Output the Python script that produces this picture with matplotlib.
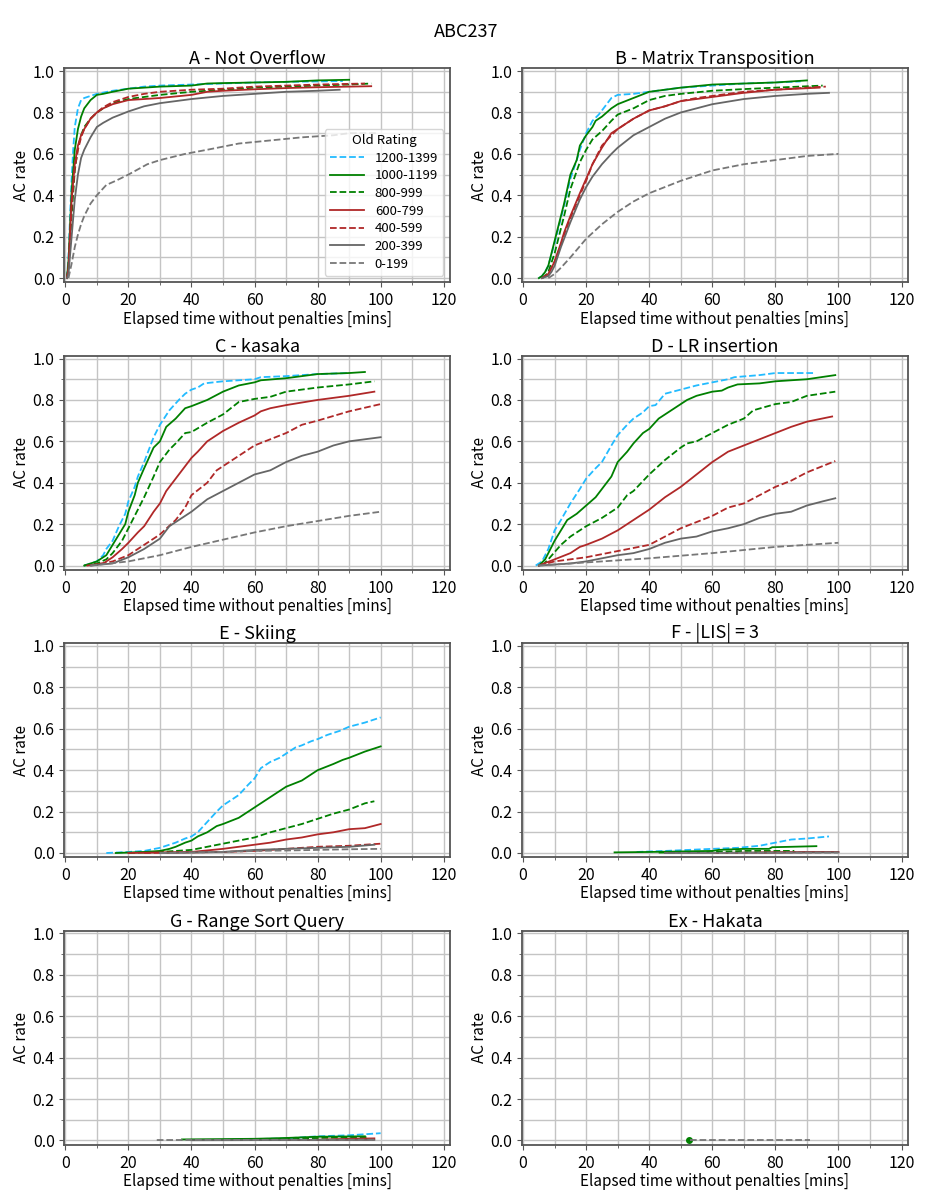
import matplotlib
matplotlib.use('Agg')
import matplotlib.pyplot as plt
from matplotlib.ticker import MultipleLocator

plt.rcParams['font.family'] = ['Noto Sans CJK JP', 'DejaVu Sans']

# rating groups, highest first (legend order)
RATINGS = ['1200-1399', '1000-1199', '800-999', '600-799', '400-599', '200-399', '0-199']
COLORS = ['#22bbff', 'green', 'green', '#b02828', '#b02828', '#666666', '#777777']
STYLES = ['--', '-', '--', '-', '--', '-', '--']

TITLES = ['A - Not Overflow', 'B - Matrix Transposition', 'C - kasaka', 'D - LR insertion',
          'E - Skiing', 'F - |LIS| = 3', 'G - Range Sort Query', 'Ex - Hakata']

# elapsed minutes / AC rate, one list per rating group
A_T = [[0.5, 1, 1.5, 2, 2.5, 3, 4, 5, 6, 8, 10, 15, 20, 25, 30, 40, 50, 60, 70, 80, 88],
       [0.5, 1, 1.5, 2, 3, 4, 5, 6, 8, 10, 12, 15, 20, 25, 30, 40, 45, 50, 60, 70, 80, 90],
       [0.5, 1, 2, 3, 4, 5, 6, 8, 10, 12, 15, 20, 25, 30, 40, 50, 60, 70, 80, 90, 97],
       [0.5, 1, 2, 3, 4, 5, 6, 8, 10, 12, 15, 20, 25, 30, 40, 45, 50, 60, 70, 80, 90, 97],
       [0.5, 1, 2, 3, 4, 5, 6, 8, 10, 12, 15, 20, 25, 30, 40, 50, 60, 70, 80, 95],
       [0.5, 1, 2, 3, 4, 5, 6, 8, 10, 12, 15, 20, 25, 30, 40, 50, 60, 70, 80, 87],
       [1, 2, 3, 4, 5, 6, 8, 10, 13, 16, 20, 26, 30, 38, 45, 55, 65, 75, 85, 90, 99]]
A_R = [[0, 0.1, 0.3, 0.48, 0.62, 0.73, 0.82, 0.86, 0.87, 0.88, 0.89, 0.905, 0.915, 0.925, 0.93, 0.935, 0.94, 0.945, 0.948, 0.95, 0.952],
       [0, 0.08, 0.25, 0.42, 0.62, 0.72, 0.78, 0.82, 0.86, 0.885, 0.89, 0.9, 0.915, 0.92, 0.925, 0.93, 0.94, 0.942, 0.945, 0.948, 0.955, 0.958],
       [0, 0.05, 0.3, 0.52, 0.63, 0.69, 0.73, 0.77, 0.8, 0.82, 0.845, 0.865, 0.875, 0.885, 0.9, 0.91, 0.92, 0.925, 0.93, 0.935, 0.94],
       [0, 0.05, 0.38, 0.55, 0.64, 0.69, 0.72, 0.77, 0.8, 0.82, 0.84, 0.86, 0.865, 0.87, 0.885, 0.9, 0.905, 0.912, 0.918, 0.922, 0.925, 0.927],
       [0, 0.04, 0.35, 0.53, 0.62, 0.68, 0.72, 0.77, 0.8, 0.825, 0.85, 0.875, 0.89, 0.9, 0.91, 0.915, 0.925, 0.93, 0.935, 0.94],
       [0, 0.02, 0.2, 0.38, 0.5, 0.58, 0.62, 0.68, 0.73, 0.75, 0.775, 0.805, 0.83, 0.845, 0.865, 0.88, 0.89, 0.9, 0.905, 0.91],
       [0, 0.07, 0.15, 0.21, 0.26, 0.3, 0.36, 0.4, 0.45, 0.47, 0.5, 0.55, 0.57, 0.6, 0.62, 0.65, 0.665, 0.68, 0.69, 0.7, 0.7]]

B_T = [[5, 6, 7, 8, 10, 12, 13, 15, 17, 18, 20, 22, 24, 26, 28, 30, 35, 40, 50, 60, 70, 80, 88],
       [5, 6, 7, 8, 10, 12, 13, 15, 17, 18, 20, 22, 23, 25, 28, 30, 35, 40, 45, 50, 60, 70, 80, 90],
       [6, 7, 8, 10, 12, 13, 15, 18, 20, 22, 25, 28, 30, 35, 40, 45, 50, 60, 70, 80, 95],
       [6, 7, 8, 10, 12, 13, 15, 18, 20, 22, 25, 28, 30, 35, 40, 45, 50, 55, 60, 70, 80, 94],
       [6, 7, 8, 10, 12, 13, 15, 18, 20, 22, 25, 28, 30, 35, 40, 45, 50, 55, 60, 70, 80, 90, 96],
       [6, 8, 9, 10, 12, 15, 18, 20, 22, 25, 28, 30, 35, 40, 45, 50, 55, 60, 70, 80, 90, 97],
       [8, 10, 12, 15, 20, 25, 30, 35, 40, 45, 50, 60, 70, 80, 90, 100]]
B_R = [[0, 0.01, 0.03, 0.06, 0.17, 0.29, 0.35, 0.48, 0.57, 0.62, 0.7, 0.76, 0.79, 0.83, 0.87, 0.885, 0.89, 0.9, 0.92, 0.93, 0.94, 0.945, 0.95],
       [0, 0.01, 0.03, 0.06, 0.18, 0.3, 0.36, 0.5, 0.57, 0.64, 0.69, 0.73, 0.76, 0.78, 0.82, 0.84, 0.87, 0.9, 0.91, 0.92, 0.935, 0.94, 0.945, 0.955],
       [0, 0.01, 0.03, 0.12, 0.24, 0.3, 0.43, 0.56, 0.62, 0.67, 0.71, 0.76, 0.79, 0.82, 0.86, 0.88, 0.89, 0.905, 0.913, 0.92, 0.93],
       [0, 0.01, 0.02, 0.08, 0.17, 0.22, 0.3, 0.41, 0.48, 0.55, 0.63, 0.7, 0.72, 0.77, 0.81, 0.83, 0.855, 0.865, 0.875, 0.895, 0.91, 0.92],
       [0, 0.01, 0.02, 0.08, 0.16, 0.21, 0.29, 0.4, 0.47, 0.55, 0.64, 0.69, 0.72, 0.77, 0.81, 0.83, 0.855, 0.87, 0.88, 0.9, 0.91, 0.92, 0.925],
       [0, 0.01, 0.03, 0.06, 0.15, 0.27, 0.38, 0.44, 0.49, 0.55, 0.6, 0.63, 0.69, 0.73, 0.77, 0.8, 0.82, 0.84, 0.865, 0.88, 0.89, 0.895],
       [0, 0.02, 0.05, 0.1, 0.19, 0.26, 0.32, 0.37, 0.41, 0.44, 0.47, 0.52, 0.55, 0.57, 0.59, 0.6]]

C_T = [[6, 8, 10, 12, 13, 15, 17, 19, 20, 22, 23, 25, 28, 30, 33, 36, 38, 40, 42, 44, 50, 55, 60, 62, 70, 80, 90],
       [6, 8, 10, 12, 13, 15, 17, 19, 20, 22, 23, 25, 28, 30, 32, 35, 38, 40, 45, 50, 55, 60, 62, 70, 80, 90, 95],
       [6, 10, 13, 15, 18, 20, 23, 25, 28, 30, 33, 35, 38, 40, 45, 50, 55, 60, 65, 70, 80, 90, 98],
       [7, 12, 15, 18, 20, 23, 25, 28, 30, 32, 35, 38, 40, 42, 45, 50, 55, 60, 62, 65, 70, 80, 90, 98],
       [8, 15, 20, 25, 30, 35, 38, 40, 45, 48, 50, 55, 60, 65, 70, 75, 80, 90, 100],
       [8, 15, 20, 25, 30, 33, 35, 40, 45, 50, 55, 60, 65, 70, 75, 80, 85, 90, 100],
       [8, 20, 30, 40, 50, 60, 70, 80, 90, 100]]
C_R = [[0, 0.01, 0.02, 0.05, 0.08, 0.12, 0.19, 0.25, 0.31, 0.38, 0.43, 0.5, 0.62, 0.68, 0.75, 0.8, 0.83, 0.85, 0.86, 0.88, 0.89, 0.895, 0.9, 0.91, 0.915, 0.925, 0.93],
       [0, 0.01, 0.02, 0.04, 0.05, 0.1, 0.15, 0.2, 0.26, 0.34, 0.4, 0.47, 0.57, 0.6, 0.67, 0.71, 0.76, 0.77, 0.8, 0.84, 0.87, 0.885, 0.895, 0.905, 0.925, 0.93, 0.935],
       [0, 0.01, 0.03, 0.06, 0.12, 0.18, 0.27, 0.33, 0.43, 0.5, 0.56, 0.59, 0.64, 0.645, 0.69, 0.73, 0.79, 0.805, 0.815, 0.84, 0.86, 0.875, 0.89],
       [0, 0.01, 0.04, 0.08, 0.11, 0.16, 0.19, 0.26, 0.3, 0.36, 0.42, 0.48, 0.52, 0.55, 0.6, 0.65, 0.69, 0.725, 0.745, 0.76, 0.775, 0.8, 0.82, 0.84],
       [0, 0.02, 0.05, 0.1, 0.15, 0.22, 0.28, 0.34, 0.4, 0.46, 0.48, 0.53, 0.58, 0.61, 0.64, 0.68, 0.7, 0.745, 0.78],
       [0, 0.01, 0.04, 0.08, 0.13, 0.19, 0.21, 0.26, 0.32, 0.36, 0.4, 0.44, 0.46, 0.5, 0.53, 0.55, 0.58, 0.6, 0.62],
       [0, 0.02, 0.05, 0.09, 0.125, 0.16, 0.19, 0.215, 0.24, 0.26]]

D_T = [[4, 6, 8, 10, 12, 15, 18, 20, 23, 25, 28, 30, 33, 35, 38, 40, 42, 45, 50, 55, 60, 65, 67, 75, 80, 92],
       [5, 7, 10, 14, 17, 20, 23, 25, 28, 30, 33, 35, 38, 40, 43, 45, 48, 50, 52, 55, 60, 63, 65, 68, 75, 80, 90, 99],
       [6, 8, 12, 15, 18, 20, 25, 30, 33, 35, 40, 45, 50, 52, 55, 60, 65, 70, 73, 80, 85, 90, 99],
       [5, 10, 15, 18, 20, 25, 30, 35, 40, 45, 50, 55, 60, 65, 70, 75, 80, 85, 90, 98],
       [5, 10, 20, 30, 40, 45, 50, 55, 60, 65, 70, 75, 80, 85, 90, 99],
       [5, 15, 20, 30, 35, 40, 45, 50, 55, 60, 65, 70, 75, 80, 85, 90, 95, 99],
       [5, 20, 40, 60, 70, 80, 90, 100]]
D_R = [[0, 0.02, 0.08, 0.17, 0.22, 0.3, 0.37, 0.42, 0.47, 0.5, 0.58, 0.63, 0.68, 0.71, 0.74, 0.77, 0.775, 0.83, 0.85, 0.87, 0.885, 0.9, 0.91, 0.92, 0.93, 0.93],
       [0, 0.03, 0.12, 0.22, 0.25, 0.29, 0.33, 0.37, 0.43, 0.5, 0.55, 0.59, 0.64, 0.66, 0.71, 0.73, 0.76, 0.78, 0.8, 0.82, 0.84, 0.845, 0.86, 0.875, 0.88, 0.89, 0.9, 0.92],
       [0, 0.03, 0.1, 0.14, 0.17, 0.19, 0.23, 0.28, 0.34, 0.36, 0.44, 0.51, 0.57, 0.59, 0.6, 0.64, 0.68, 0.71, 0.75, 0.78, 0.79, 0.82, 0.84],
       [0, 0.03, 0.06, 0.09, 0.1, 0.13, 0.17, 0.22, 0.27, 0.33, 0.38, 0.44, 0.5, 0.55, 0.58, 0.61, 0.64, 0.67, 0.695, 0.72],
       [0, 0.02, 0.04, 0.07, 0.1, 0.14, 0.18, 0.21, 0.24, 0.28, 0.3, 0.34, 0.38, 0.41, 0.45, 0.505],
       [0, 0.01, 0.02, 0.05, 0.06, 0.08, 0.11, 0.13, 0.14, 0.165, 0.18, 0.2, 0.23, 0.25, 0.26, 0.29, 0.31, 0.325],
       [0, 0.015, 0.035, 0.06, 0.075, 0.09, 0.1, 0.11]]

E_T = [[13, 20, 25, 30, 33, 35, 38, 40, 42, 45, 48, 50, 53, 55, 58, 60, 62, 65, 68, 70, 73, 75, 78, 80, 83, 87, 90, 95, 100],
       [16, 25, 30, 33, 35, 38, 40, 42, 45, 48, 50, 55, 58, 60, 63, 65, 68, 70, 75, 80, 85, 88, 90, 95, 100],
       [20, 30, 40, 45, 50, 55, 60, 65, 70, 75, 80, 85, 90, 95, 98],
       [20, 40, 50, 55, 60, 65, 70, 75, 80, 85, 90, 95, 100],
       [25, 50, 60, 70, 80, 90, 100],
       [30, 50, 60, 70, 80, 90, 98],
       [30, 50, 60, 70, 80, 90, 100]]
E_R = [[0, 0.005, 0.01, 0.025, 0.04, 0.05, 0.07, 0.08, 0.1, 0.15, 0.2, 0.23, 0.26, 0.28, 0.33, 0.36, 0.41, 0.44, 0.46, 0.48, 0.51, 0.52, 0.54, 0.55, 0.57, 0.59, 0.61, 0.63, 0.655],
       [0, 0.005, 0.01, 0.02, 0.03, 0.05, 0.06, 0.08, 0.1, 0.13, 0.14, 0.17, 0.2, 0.22, 0.25, 0.27, 0.3, 0.32, 0.35, 0.4, 0.43, 0.45, 0.46, 0.49, 0.515],
       [0, 0.005, 0.015, 0.03, 0.045, 0.06, 0.075, 0.1, 0.12, 0.14, 0.165, 0.19, 0.21, 0.24, 0.25],
       [0, 0.005, 0.02, 0.03, 0.04, 0.05, 0.065, 0.075, 0.09, 0.1, 0.115, 0.12, 0.14],
       [0, 0.005, 0.01, 0.02, 0.03, 0.035, 0.045],
       [0, 0.005, 0.015, 0.02, 0.025, 0.03, 0.04],
       [0, 0.005, 0.01, 0.012, 0.015, 0.018, 0.02]]

F_T = [[36, 45, 60, 68, 75, 80, 85, 90, 97],
       [29, 40, 60, 62, 70, 78, 79, 85, 93],
       [43, 60, 70, 80, 86],
       [75, 90, 100],
       [60, 100],
       [45, 100],
       [50, 100]]
F_R = [[0.005, 0.01, 0.02, 0.025, 0.035, 0.05, 0.065, 0.07, 0.08],
       [0.003, 0.005, 0.01, 0.015, 0.02, 0.02, 0.028, 0.03, 0.033],
       [0.002, 0.005, 0.01, 0.01, 0.01],
       [0.002, 0.005, 0.005],
       [0.0, 0.005],
       [0.0, 0.003],
       [0.0, 0.002]]

G_T = [[50, 70, 80, 90, 100],
       [37, 60, 70, 80, 95],
       [60, 90, 96],
       [80, 90, 98],
       [70, 98],
       [40, 98],
       [29, 98]]
G_R = [[0.003, 0.01, 0.02, 0.025, 0.035],
       [0.005, 0.008, 0.012, 0.018, 0.02],
       [0.005, 0.015, 0.016],
       [0.003, 0.008, 0.01],
       [0.002, 0.005],
       [0.001, 0.003],
       [0.002, 0.004]]

EX_T = [[], [52.5], [], [], [], [], [53, 91]]
EX_R = [[], [0.0], [], [], [], [], [0.003, 0.003]]

PANELS = [(A_T, A_R), (B_T, B_R), (C_T, C_R), (D_T, D_R),
          (E_T, E_R), (F_T, F_R), (G_T, G_R), (EX_T, EX_R)]

fig, axes = plt.subplots(4, 2, figsize=(9.33, 12), dpi=100)
fig.subplots_adjust(left=0.069, right=0.973, top=0.943, bottom=0.046, wspace=0.187, hspace=0.343)
fig.suptitle('ABC237', fontsize=13, y=0.981)

for k, ax in enumerate(axes.flat):
    ts, rs = PANELS[k]
    for i in range(len(RATINGS)):
        if len(ts[i]) == 0:
            continue
        if len(ts[i]) == 1:
            ax.plot(ts[i], rs[i], color=COLORS[i], ls=STYLES[i], marker='o', ms=4, label=RATINGS[i])
        else:
            ax.plot(ts[i], rs[i], color=COLORS[i], ls=STYLES[i], lw=1.3, label=RATINGS[i])
    ax.set_title(TITLES[k], fontsize=13, pad=3)
    ax.set_xlim(-0.3, 122)
    ax.set_ylim(-0.021, 1.013)
    ax.xaxis.set_major_locator(MultipleLocator(20))
    ax.xaxis.set_minor_locator(MultipleLocator(10))
    ax.yaxis.set_major_locator(MultipleLocator(0.2))
    ax.yaxis.set_minor_locator(MultipleLocator(0.1))
    ax.grid(which='both', color='#c4c4c4', lw=1.0)
    ax.set_axisbelow(True)
    ax.tick_params(which='both', colors='#555555', labelcolor='black', labelsize=11.5)
    ax.tick_params(which='minor', length=2)
    for sp in ax.spines.values():
        sp.set_color('#555555')
        sp.set_linewidth(1.3)
    ax.set_xlabel('Elapsed time without penalties [mins]', fontsize=11, labelpad=1)
    ax.set_ylabel('AC rate', fontsize=11, labelpad=2)
    if k == 0:
        ax.legend(loc='lower right', title='Old Rating', fontsize=9.5, title_fontsize=9.5,
                  handlelength=2.6, labelspacing=0.35)

fig.savefig('out.png', dpi=100)
